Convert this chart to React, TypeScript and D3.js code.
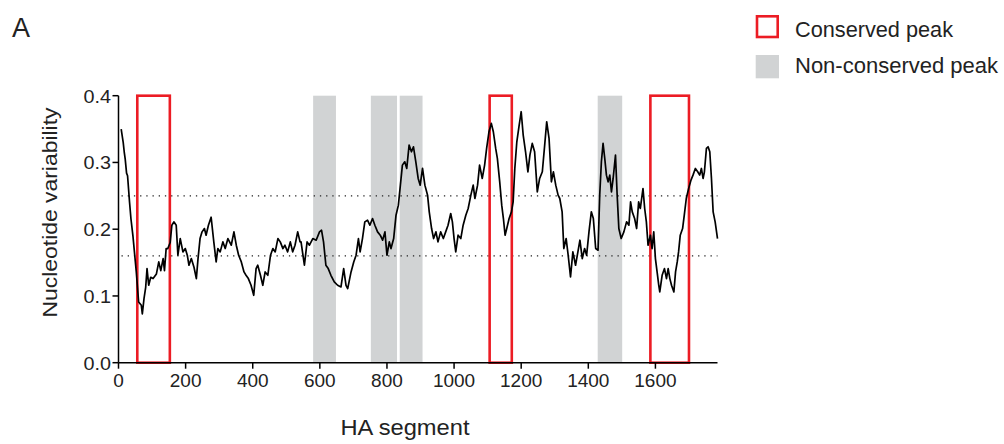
import React from "react";
import * as d3 from "d3";

const positions: number[] = [
  8, 14, 17, 20, 24, 27, 33, 37, 43, 53, 60, 68, 71, 76, 81, 85, 90, 96, 103, 113,
  120, 126, 133, 137, 142, 147, 154, 159, 165, 172, 177, 184, 192, 199, 205, 210, 217, 225, 232, 237,
  243, 249, 256, 261, 268, 276, 284, 291, 296, 303, 311, 318, 326, 336, 344, 351, 358, 366, 374, 380,
  387, 395, 403, 410, 415, 423, 430, 437, 445, 453, 460, 467, 475, 482, 490, 496, 504, 512, 519, 526,
  534, 541,
  544, 554, 562, 569, 579, 589, 599, 605, 611, 618, 625, 633, 643, 653, 663, 671, 678, 683, 693, 701,
  708, 715, 720, 727, 734, 742, 749, 757, 764, 772, 780, 787, 794, 800, 807, 812, 820, 827, 834, 840,
  846, 853, 859, 866, 873, 879, 886, 893, 899, 906, 913, 921, 926, 933, 939, 946, 952, 960, 968, 975,
  982, 990, 995, 1000, 1005, 1012, 1020, 1027, 1035, 1042, 1050, 1057, 1062, 1070, 1076, 1084, 1091, 1097, 1104, 1111,
  1117, 1124, 1129, 1136, 1142, 1147, 1152, 1157, 1164, 1171, 1176,
  1181, 1187, 1194, 1200, 1206, 1213, 1220, 1226, 1233, 1240, 1248, 1255, 1263, 1270, 1276, 1283, 1290, 1296, 1303, 1310,
  1315, 1322, 1327, 1334, 1340, 1347, 1354, 1362, 1369, 1375, 1382, 1389, 1395, 1402, 1409, 1415, 1422, 1429, 1434, 1439,
  1444, 1449, 1454, 1459, 1464, 1469, 1474, 1481, 1486, 1491, 1498, 1506, 1514, 1521, 1526, 1531, 1538, 1544, 1550, 1555,
  1563, 1568, 1573, 1578, 1585, 1590, 1595, 1600, 1605, 1610, 1613, 1620, 1627, 1633, 1638, 1643, 1648, 1655, 1660, 1665,
  1669, 1674, 1681, 1686, 1692, 1699, 1706, 1712, 1719, 1726, 1732, 1737, 1742, 1746, 1752, 1757, 1762, 1767, 1772, 1778,
  1785,
];

const variability: number[] = [
  0.35, 0.33, 0.316, 0.305, 0.284, 0.28, 0.24, 0.216, 0.19, 0.136, 0.091, 0.086, 0.073, 0.096, 0.113, 0.141, 0.116, 0.128, 0.126, 0.133,
  0.151, 0.138, 0.156, 0.138, 0.171, 0.171, 0.18, 0.206, 0.211, 0.206, 0.161, 0.186, 0.166, 0.171, 0.161, 0.146, 0.156, 0.143, 0.126, 0.156,
  0.186, 0.196, 0.201, 0.191, 0.206, 0.218, 0.181, 0.151, 0.171, 0.166, 0.181, 0.171, 0.186, 0.176, 0.196, 0.176, 0.161, 0.151, 0.136, 0.131,
  0.126, 0.116, 0.101, 0.141, 0.146, 0.131, 0.116, 0.136, 0.131, 0.161, 0.171, 0.166, 0.186, 0.181, 0.171, 0.176, 0.166, 0.181, 0.166, 0.176,
  0.196, 0.181,
  0.181, 0.146, 0.181, 0.176, 0.186, 0.1835, 0.196, 0.1985, 0.181, 0.146, 0.141, 0.131, 0.121, 0.116, 0.1135, 0.141, 0.116, 0.111, 0.136, 0.151,
  0.161, 0.186, 0.166, 0.186, 0.211, 0.2135, 0.206, 0.216, 0.206, 0.196, 0.191, 0.1835, 0.196, 0.161, 0.181, 0.171, 0.186, 0.221, 0.236, 0.266,
  0.296, 0.301, 0.291, 0.326, 0.316, 0.3235, 0.301, 0.276, 0.266, 0.291, 0.266, 0.251, 0.226, 0.201, 0.186, 0.196, 0.181, 0.196, 0.186, 0.196,
  0.206, 0.2235, 0.211, 0.186, 0.166, 0.191, 0.186, 0.206, 0.221, 0.231, 0.251, 0.266, 0.246, 0.266, 0.296, 0.276, 0.296, 0.321, 0.346, 0.3585,
  0.346, 0.321, 0.306, 0.271, 0.236, 0.216, 0.191, 0.201, 0.216, 0.226, 0.241,
  0.291, 0.331, 0.356, 0.376, 0.341, 0.316, 0.286, 0.311, 0.3285, 0.316, 0.256, 0.276, 0.286, 0.326, 0.361, 0.336, 0.271, 0.286, 0.266, 0.251,
  0.246, 0.226, 0.171, 0.186, 0.161, 0.1285, 0.166, 0.146, 0.166, 0.1835, 0.156, 0.171, 0.161, 0.196, 0.226, 0.216, 0.171, 0.1685, 0.251, 0.301,
  0.3285, 0.306, 0.281, 0.271, 0.281, 0.256, 0.276, 0.311, 0.251, 0.201, 0.186, 0.196, 0.211, 0.206, 0.241, 0.226, 0.216, 0.201, 0.241, 0.231,
  0.261, 0.231, 0.211, 0.176, 0.191, 0.171, 0.196, 0.156, 0.136, 0.116, 0.106, 0.131, 0.141, 0.126, 0.141, 0.126, 0.116, 0.106, 0.136, 0.151,
  0.166, 0.191, 0.201, 0.221, 0.246, 0.261, 0.2735, 0.281, 0.291, 0.286, 0.281, 0.291, 0.276, 0.286, 0.321, 0.3235, 0.316, 0.276, 0.226, 0.211,
  0.186,
];

const conservedStarts: number[] = [56, 1106, 1585];
const conservedEnds: number[] = [153, 1172, 1700];
const nonConservedStarts: number[] = [580, 752, 838, 1428];
const nonConservedEnds: number[] = [648, 830, 906, 1501];
const thresholds: number[] = [0.16, 0.25];
const xTicks: number[] = [0, 200, 400, 600, 800, 1000, 1200, 1400, 1600];
const yTicks: number[] = [0, 0.1, 0.2, 0.3, 0.4];
const legendLabels: string[] = ["Conserved peak", "Non-conserved peak"];

const FONT = "'Liberation Sans', Arial, Helvetica, sans-serif";
const RED = "#ec1c24";
const GREY = "#d1d3d4";

export default function App() {
  const x = d3.scaleLinear().domain([0, 1785]).range([118.5, 717.5]);
  const y = d3.scaleLinear().domain([0, 0.4]).range([362.7, 95.7]);
  const pts = positions.map((p, i) => [p, variability[i]] as [number, number]);
  const line = d3
    .line<[number, number]>()
    .x((d) => x(d[0]))
    .y((d) => y(d[1]));

  return (
    <svg
      width={1004}
      height={444}
      style={{ position: "absolute", left: 0, top: 0, background: "#fff" }}
      fontFamily={FONT}
    >
      <rect x={0} y={0} width={1004} height={444} fill="#fff" />
      <text x={12} y={37} fontSize={27} fill="#222">A</text>

      {nonConservedStarts.map((s, i) => (
        <rect
          key={"g" + i}
          x={x(s)}
          y={y(0.4)}
          width={x(nonConservedEnds[i]) - x(s)}
          height={y(0) - y(0.4)}
          fill={GREY}
        />
      ))}

      {thresholds.map((t, i) => (
        <line
          key={"t" + i}
          x1={x(0) + 3}
          x2={x(1785)}
          y1={y(t)}
          y2={y(t)}
          stroke="#222"
          strokeWidth={1.3}
          strokeDasharray="1.3 4.9"
        />
      ))}

      {conservedStarts.map((s, i) => (
        <rect
          key={"c" + i}
          x={x(s)}
          y={y(0.4)}
          width={x(conservedEnds[i]) - x(s)}
          height={y(0) - y(0.4)}
          fill="none"
          stroke={RED}
          strokeWidth={2.6}
        />
      ))}

      <path d={line(pts) || ""} fill="none" stroke="#000" strokeWidth={1.7} strokeLinejoin="round" />

      {/* axes */}
      <line x1={x(0)} x2={x(0)} y1={y(0.4)} y2={y(0)} stroke="#000" strokeWidth={1.5} />
      <line x1={x(0)} x2={x(1785)} y1={y(0)} y2={y(0)} stroke="#000" strokeWidth={1.5} />
      {yTicks.map((t) => (
        <g key={"yt" + t}>
          <line x1={x(0) - 6} x2={x(0)} y1={y(t)} y2={y(t)} stroke="#000" strokeWidth={1.5} />
          <text
            x={x(0) - 7.5}
            y={y(t)}
            dy="0.36em"
            textAnchor="end"
            fontSize={19}
            fill="#222"
            textLength={27.5}
            lengthAdjust="spacingAndGlyphs"
          >
            {t.toFixed(1)}
          </text>
        </g>
      ))}
      {xTicks.map((t) => (
        <g key={"xt" + t}>
          <line x1={x(t)} x2={x(t)} y1={y(0)} y2={y(0) + 6} stroke="#000" strokeWidth={1.5} />
          <text x={x(t)} y={386.5} textAnchor="middle" fontSize={19} fill="#222">
            {t}
          </text>
        </g>
      ))}

      <text
        transform="translate(57,212.5) rotate(-90)"
        textAnchor="middle"
        fontSize={21}
        fill="#222"
        textLength={210}
        lengthAdjust="spacingAndGlyphs"
      >
        Nucleotide variability
      </text>
      <text x={405} y={435} textAnchor="middle" fontSize={22} fill="#222" textLength={129} lengthAdjust="spacingAndGlyphs">
        HA segment
      </text>

      {/* legend */}
      <rect x={757} y={16.3} width={20.7} height={20.7} fill="none" stroke={RED} strokeWidth={2.6} />
      <text x={795} y={36.7} fontSize={22} fill="#222" textLength={158} lengthAdjust="spacingAndGlyphs">
        {legendLabels[0]}
      </text>
      <rect x={755.7} y={55} width={23.3} height={23.3} fill={GREY} />
      <text x={795} y={73.3} fontSize={22} fill="#222" textLength={203} lengthAdjust="spacingAndGlyphs">
        {legendLabels[1]}
      </text>
    </svg>
  );
}
